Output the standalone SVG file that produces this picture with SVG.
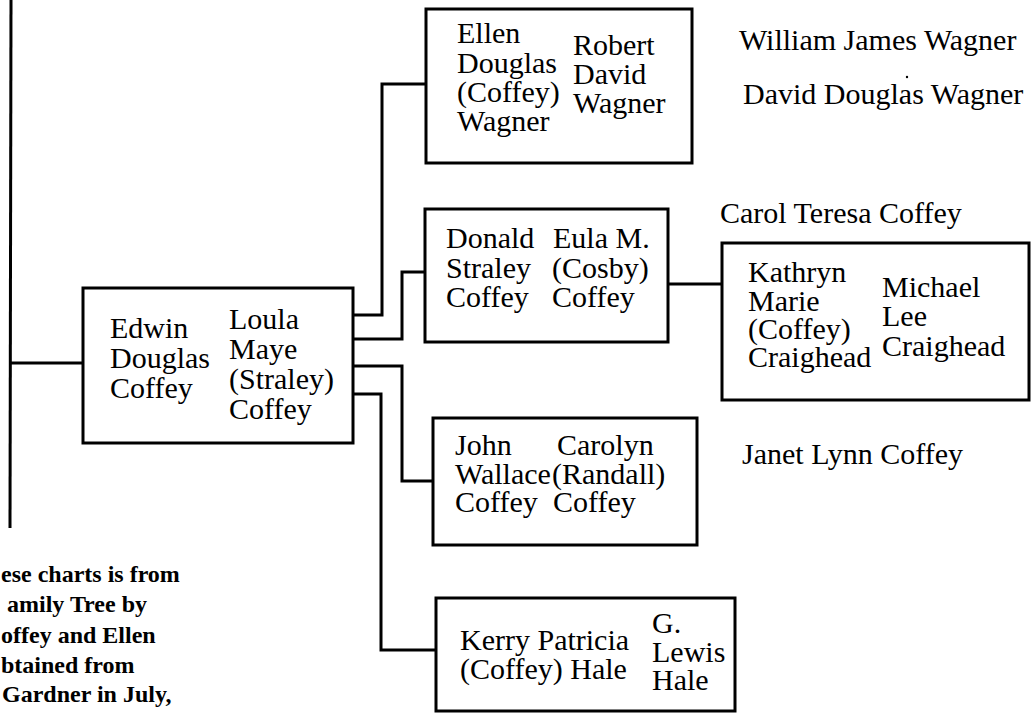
<svg xmlns="http://www.w3.org/2000/svg" width="1031" height="714" viewBox="0 0 1031 714">
<style>
.box{fill:#fff;stroke:#000;stroke-width:3}
.ln{fill:none;stroke:#000;stroke-width:3;stroke-linejoin:miter}
text{font-family:"Liberation Serif","Times New Roman",serif;font-size:30px;fill:#000}
.note{font-weight:bold;font-size:24px}
</style>
<rect width="1031" height="714" fill="#fff"/>
<g id="connectors">
<path class="ln" d="M11,0 L10,528"/>
<path class="ln" d="M10,363 H83"/>
<path class="ln" d="M353,315 H382 V84 H426"/>
<path class="ln" d="M353,339 H402 V272 H425"/>
<path class="ln" d="M353,366 H402 V481 H433"/>
<path class="ln" d="M353,394 H381 V650 H436"/>
<path class="ln" d="M668,284 H722"/>
</g>
<g id="node-edwin-loula">
<rect class="box" x="83" y="288" width="270" height="155"/>
<text x="110" y="338">Edwin<tspan x="110" dy="30">Douglas</tspan><tspan x="110" dy="30">Coffey</tspan></text>
<text x="229" y="329">Loula<tspan x="229" dy="30">Maye</tspan><tspan x="229" dy="30">(Straley)</tspan><tspan x="229" dy="30">Coffey</tspan></text>
</g>
<g id="node-ellen-robert">
<rect class="box" x="426" y="9" width="266" height="154"/>
<text x="457" y="43">Ellen<tspan x="457" dy="30">Douglas</tspan><tspan x="457" dy="29">(Coffey)</tspan><tspan x="457" dy="29">Wagner</tspan></text>
<text x="573" y="55">Robert<tspan x="573" dy="29">David</tspan><tspan x="573" dy="29">Wagner</tspan></text>
</g>
<g id="node-donald-eula">
<rect class="box" x="425" y="209" width="243" height="133"/>
<text x="446" y="248">Donald<tspan x="446" dy="30">Straley</tspan><tspan x="446" dy="29">Coffey</tspan></text>
<text x="553" y="248">Eula M.<tspan x="552" dy="30">(Cosby)</tspan><tspan x="552" dy="29">Coffey</tspan></text>
</g>
<g id="node-kathryn-michael">
<rect class="box" x="722" y="243" width="307" height="157"/>
<text x="748" y="282">Kathryn<tspan x="748" dy="29">Marie</tspan><tspan x="748" dy="28">(Coffey)</tspan><tspan x="748" dy="28">Craighead</tspan></text>
<text x="882" y="297">Michael<tspan x="882" dy="29">Lee</tspan><tspan x="882" dy="30">Craighead</tspan></text>
</g>
<g id="node-john-carolyn">
<rect class="box" x="433" y="418" width="264" height="127"/>
<text x="455" y="455">John<tspan x="455" dy="29">Wallace</tspan><tspan x="455" dy="28">Coffey</tspan></text>
<text x="557" y="455">Carolyn<tspan x="552" dy="29">(Randall)</tspan><tspan x="553" dy="28">Coffey</tspan></text>
</g>
<g id="node-kerry-lewis">
<rect class="box" x="436" y="598" width="299" height="113"/>
<text x="460" y="650">Kerry Patricia<tspan x="460" dy="29">(Coffey) Hale</tspan></text>
<text x="652" y="633">G.<tspan x="652" dy="29">Lewis</tspan><tspan x="652" dy="28">Hale</tspan></text>
</g>
<g id="node-william">
<text x="739" y="50">William James Wagner</text>
</g>
<circle cx="907" cy="77" r="1.2" fill="#000"/>
<g id="node-david">
<text x="743" y="104">David Douglas Wagner</text>
</g>
<g id="node-carol">
<text x="720" y="223">Carol Teresa Coffey</text>
</g>
<g id="node-janet">
<text x="742" y="464">Janet Lynn Coffey</text>
</g>
<g id="note">
<text class="note" x="1" y="582">ese charts is from<tspan x="7" dy="30">amily Tree by</tspan><tspan x="1" dy="31">offey and Ellen</tspan><tspan x="1" dy="30">btained from</tspan><tspan x="2" dy="29">Gardner in July,</tspan></text>
</g>
</svg>
